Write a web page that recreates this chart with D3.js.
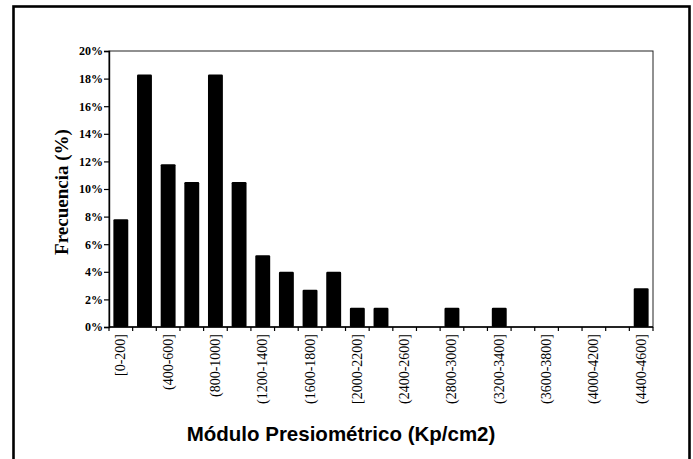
<!DOCTYPE html>
<html>
<head>
<meta charset="utf-8">
<script src="https://cdn.jsdelivr.net/npm/d3@7"></script>
<style>
  html, body { margin: 0; padding: 0; background: #fff; }
  svg { display: block; }
</style>
</head>
<body>
<svg id="chart" width="693" height="459"></svg>
<script>
// Intervalos del módulo presiométrico (Kp/cm2)
const bins = [
  "[0-200]", "(200-400]", "(400-600]", "(600-800]", "(800-1000]",
  "(1000-1200]", "(1200-1400]", "(1400-1600]", "(1600-1800]", "(1800-2000]",
  "[2000-2200]", "(2200-2400]", "(2400-2600]", "(2600-2800]", "(2800-3000]",
  "(3000-3200]", "(3200-3400]", "(3400-3600]", "(3600-3800]", "(3800-4000]",
  "(4000-4200]", "(4200-4400]", "(4400-4600]"
];
// Frecuencia de cada intervalo (%)
const freq = [
  7.8, 18.3, 11.8, 10.5, 18.3,
  10.5, 5.2, 4.0, 2.7, 4.0,
  1.4, 1.4, 0, 0, 1.4,
  0, 1.4, 0, 0, 0,
  0, 0, 2.8
];
// Intervalos rotulados en el eje horizontal
const tickLabels = [
  "[0-200]", "(400-600]", "(800-1000]", "(1200-1400]", "(1600-1800]",
  "[2000-2200]", "(2400-2600]", "(2800-3000]", "(3200-3400]", "(3600-3800]",
  "(4000-4200]", "(4400-4600]"
];
const yTicks = [0, 2, 4, 6, 8, 10, 12, 14, 16, 18, 20];

const svg = d3.select("#chart");
const plot = { left: 109, right: 653, top: 51, bottom: 327 };

// Marco exterior del gráfico
svg.append("rect")
  .attr("x", 13.5).attr("y", 6.5)
  .attr("width", 676).attr("height", 470)
  .attr("fill", "none").attr("stroke", "#000").attr("stroke-width", 2.6);

const x = d3.scaleBand()
  .domain(bins)
  .range([plot.left, plot.right])
  .paddingInner(0.37)
  .paddingOuter(0.185);

const y = d3.scaleLinear()
  .domain([0, 20])
  .range([plot.bottom, plot.top]);

// Borde del área de trazado
svg.append("rect")
  .attr("x", plot.left).attr("y", plot.top)
  .attr("width", plot.right - plot.left)
  .attr("height", plot.bottom - plot.top)
  .attr("fill", "none").attr("stroke", "#222").attr("stroke-width", 1);

// Barras
svg.append("g")
  .selectAll("rect")
  .data(bins.map((b, i) => ({ bin: b, v: freq[i] })).filter(d => d.v > 0))
  .join("rect")
  .attr("x", d => x(d.bin))
  .attr("y", d => y(d.v))
  .attr("width", x.bandwidth())
  .attr("height", d => y(0) - y(d.v))
  .attr("rx", 1.2)
  .attr("fill", "#000");

// Eje vertical
const yAxis = d3.axisLeft(y)
  .tickValues(yTicks)
  .tickSize(5)
  .tickFormat(d => d + "%");
const gy = svg.append("g")
  .attr("transform", `translate(${plot.left},0)`)
  .call(yAxis);
gy.select(".domain").attr("stroke", "#000").attr("stroke-width", 1.4);
gy.selectAll(".tick line").attr("stroke", "#000").attr("stroke-width", 1.2);
gy.selectAll(".tick text")
  .attr("x", -6)
  .style("font-family", "'Liberation Serif', 'Times New Roman', serif")
  .style("font-weight", "bold")
  .style("font-size", "12px")
  .attr("fill", "#000");

// Eje horizontal: marcas en los límites de cada intervalo
const step = x.step();
const edges = d3.range(bins.length + 1).map(i => plot.left + i * step);
svg.append("line")
  .attr("x1", plot.left).attr("x2", plot.right)
  .attr("y1", plot.bottom).attr("y2", plot.bottom)
  .attr("stroke", "#000").attr("stroke-width", 1.4);
svg.append("g")
  .selectAll("line")
  .data(edges)
  .join("line")
  .attr("x1", d => d).attr("x2", d => d)
  .attr("y1", plot.bottom).attr("y2", plot.bottom + 4)
  .attr("stroke", "#000").attr("stroke-width", 1.2);

svg.append("g")
  .selectAll("text")
  .data(tickLabels)
  .join("text")
  .attr("transform", d => `translate(${x(d) + x.bandwidth() / 2 + 4.5},${plot.bottom + 7}) rotate(-90)`)
  .attr("text-anchor", "end")
  .style("font-family", "'Liberation Serif', 'Times New Roman', serif")
  .style("font-size", "14px")
  .attr("fill", "#000")
  .text(d => d);

// Títulos de los ejes
svg.append("text")
  .attr("transform", `translate(68,${(plot.top + plot.bottom) / 2 + 3}) rotate(-90)`)
  .attr("text-anchor", "middle")
  .style("font-family", "'Liberation Serif', 'Times New Roman', serif")
  .style("font-weight", "bold")
  .style("font-size", "19px")
  .attr("fill", "#000")
  .text("Frecuencia (%)");

svg.append("text")
  .attr("x", 341)
  .attr("y", 441)
  .attr("text-anchor", "middle")
  .style("font-family", "'Liberation Sans', Arial, sans-serif")
  .style("font-weight", "bold")
  .style("font-size", "20.5px")
  .attr("fill", "#000")
  .text("Módulo Presiométrico (Kp/cm2)");
</script>
</body>
</html>
